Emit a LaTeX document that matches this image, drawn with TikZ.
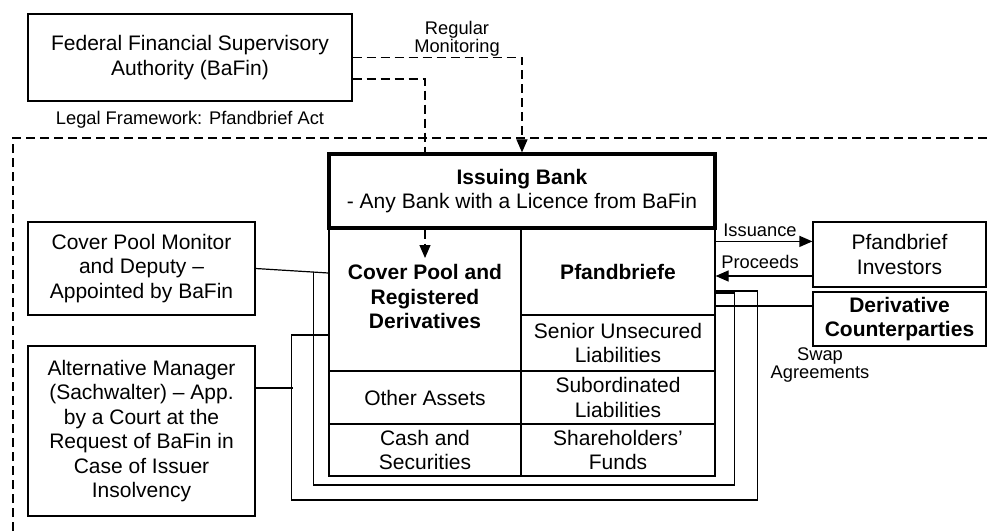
\documentclass[tikz,border=0pt]{standalone}
\usepackage{fontspec}
\setmainfont{Liberation Sans}
\usetikzlibrary{arrows.meta,calc}
\newcommand\mainfs{\fontsize{21}{24.5}\selectfont}
\newcommand\smallfs{\fontsize{18.3}{18.5}\selectfont}
\tikzset{
  box/.style={draw, line width=1.2pt, inner sep=0pt, align=center, font=\mainfs},
  cell/.style={draw, line width=1.2pt, inner sep=0pt, align=center, font=\mainfs},
  lbl/.style={inner sep=0pt, align=center, font=\smallfs},
  dsh/.style={line width=1.2pt, dash pattern=on 9pt off 5pt},
  conn/.style={line width=1.2pt},
  arr/.style={-{Triangle[length=13pt,width=11pt]}}
}
\begin{document}
\begin{tikzpicture}[x=1pt,y=-1pt]
\useasboundingbox (0,0) rectangle (990,532);
\clip (0,0) rectangle (990,532);
% supervisory authority
\node[box, minimum width=324pt, minimum height=87pt] (bafin) at (190,57.5) {Federal Financial Supervisory\\Authority (BaFin)};
\node[lbl] (legal) at (190,119.5) {Legal Framework: Pfandbrief Act};
\node[lbl] (regmon) at (457,39) {Regular\\Monitoring};
% dashed frame
\draw[dsh] (13,545) -- (13,138) -- (1000,138);
% balance sheet cells
\node[cell, minimum width=192pt, minimum height=143pt, font=\mainfs\bfseries, text depth=6pt] (cover) at (425,299.5) {Cover Pool and\\Registered\\Derivatives};
\node[cell, minimum width=194pt, minimum height=87pt, font=\mainfs\bfseries] (pfand) at (618,271.5) {Pfandbriefe};
\node[cell, minimum width=194pt, minimum height=56pt] (senior) at (618,343) {Senior Unsecured\\Liabilities};
\node[cell, minimum width=192pt, minimum height=53pt] (other) at (425,397.5) {Other Assets};
\node[cell, minimum width=194pt, minimum height=53pt] (subord) at (618,397.5) {Subordinated\\Liabilities};
\node[cell, minimum width=192pt, minimum height=52pt] (cash) at (425,450) {Cash and\\Securities};
\node[cell, minimum width=194pt, minimum height=52pt] (share) at (618,450) {Shareholders'\\Funds};
% issuing bank
\node[box, line width=3.2pt, minimum width=386pt, minimum height=74pt] (issuing) at (522,191) {\textbf{Issuing Bank}\\- Any Bank with a Licence from BaFin};
% right side
\node[box, minimum width=173pt, minimum height=65pt] (investors) at (899.5,254.5) {Pfandbrief\\Investors};
\node[box, minimum width=173pt, minimum height=54pt, font=\mainfs\bfseries] (deriv) at (899.5,319) {Derivative\\Counterparties};
% left side
\node[box, minimum width=227pt, minimum height=93pt] (monitor) at (141.5,268.5) {Cover Pool Monitor\\and Deputy --\\Appointed by BaFin};
\node[box, minimum width=227pt, minimum height=170pt] (altman) at (141.5,431) {Alternative Manager\\(Sachwalter) -- App.\\by a Court at the\\Request of BaFin in\\Case of Issuer\\Insolvency};
% labels
\node[lbl] (issl) at (760,230.5) {Issuance};
\node[lbl] (prol) at (760,261.5) {Proceeds};
\node[lbl] (swap) at (820,365) {Swap\\Agreements};
% dashed monitoring connectors
\draw[dsh, arr] (bafin.east) -| (issuing.north);
\draw[dsh] ([yshift=-21.5pt]bafin.east) -| ([xshift=-97pt]issuing.north);
\coordinate (cptip) at (425,258);
\draw[dsh, arr] ([xshift=-97pt]issuing.south) -- (cptip);
% issuance / proceeds
\coordinate (iss) at ([yshift=-14pt]pfand.north east);
\draw[conn, arr] (iss) -- (iss -| investors.west);
\coordinate (pro) at ([yshift=-21.5pt]investors.west);
\draw[conn, arr] (pro) -- (pro -| pfand.east);
% derivative counterparties
\coordinate (dl) at ([yshift=13pt]deriv.west);
\draw[conn] (dl) -- (dl -| pfand.east);
% cover pool monitor frame
\coordinate (mon2) at ([yshift=26.5pt]cover.west);
\draw[conn] (monitor.east) -- (mon2);
\coordinate (m1) at ($(monitor.east)!0.797!(mon2)$);
\draw[conn] (m1) -- ++(0,213) -| ([xshift=19pt,yshift=-21.5pt]pfand.east) -- ([yshift=-21.5pt]pfand.east);
% alternative manager frame
\draw[conn] ([yshift=43pt]altman.east) -- ++(37,0);
\draw[conn] ([yshift=-35.5pt]cover.west) -- ++(-37,0) -- ++(0,165) -| ([xshift=42pt,yshift=-19.5pt]pfand.east) -- ([yshift=-19.5pt]pfand.east);
\end{tikzpicture}
\end{document}
